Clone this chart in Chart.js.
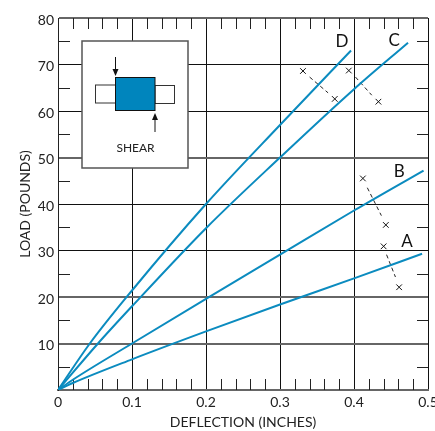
<!DOCTYPE html>
<html>
<head>
<meta charset="utf-8">
<title>Load vs deflection (shear)</title>
<style>
  html, body { margin: 0; padding: 0; background: #fff; }
  canvas { display: block; }
</style>
<script src="https://cdn.jsdelivr.net/npm/chart.js@4"></script>
</head>
<body>
<canvas id="shearChart" width="435" height="431"></canvas>
<script>
// -----------------------------------------------------------------
// DATA
// -----------------------------------------------------------------
const curveA = [[0, 0], [0.02, 1.5], [0.1, 6.6], [0.2, 12.6], [0.3, 18.4], [0.4, 24], [0.492, 29.3]];
const curveB = [[0, 0], [0.02, 2.2], [0.1, 10], [0.2, 19.6], [0.3, 29.1], [0.4, 38.6], [0.494, 47.2]];
const curveC = [[0, 0], [0.054, 10], [0.1, 18], [0.2, 34.8], [0.3, 50], [0.4, 64.7], [0.473, 74.7]];
const curveD = [[0, 0], [0.043, 10], [0.1, 21.4], [0.2, 40], [0.3, 57], [0.396, 73]];

const crossPairs = [
  [[0.331, 68.6], [0.374, 62.6]],
  [[0.393, 68.7], [0.433, 62]],
  [[0.412, 45.5], [0.443, 35.5]],
  [[0.44, 30.9], [0.461, 22.1]],
];
// dashed links stop a little short of their crosses
const crossLinks = [
  [[0.34, 67.3], [0.365, 63.9]],
  [[0.402, 67.3], [0.424, 63.4]],
  [[0.418, 43.5], [0.437, 37.5]],
  [[0.444, 29.1], [0.456, 24.3]],
];

const curveLabels = [["A", 0.4716, 32], ["B", 0.4612, 46.9], ["C", 0.4544, 75.1], ["D", 0.3837, 74.9]];

const xMinorTicks = [0.02, 0.04, 0.06, 0.08, 0.12, 0.14, 0.16, 0.18, 0.22, 0.24, 0.26, 0.28, 0.32, 0.34, 0.36, 0.38, 0.42, 0.44, 0.46, 0.48];
const yMinorTicks = [5, 15, 25, 35, 45, 55, 65, 75];
const yGreyLines = [0, 10, 20, 50, 80];

const BLUE = "#0b8bbf";
const FONT = "Lato, 'Open Sans', sans-serif";
const toXY = (pts) => pts.map(([x, y]) => ({ x, y }));

const curveDataset = (pts) => ({
  data: toXY(pts), borderColor: BLUE, borderWidth: 2, pointRadius: 0,
  showLine: true, cubicInterpolationMode: "monotone",
});

// -----------------------------------------------------------------
// PLUGINS: minor ticks inside the frame, curve letters, shear inset
// -----------------------------------------------------------------
const minorTicks = {
  id: "minorTicks",
  beforeDatasetsDraw(chart) {
    const { ctx, chartArea: a, scales } = chart;
    ctx.save();
    ctx.strokeStyle = "#222";
    ctx.lineWidth = 1;
    ctx.beginPath();
    xMinorTicks.forEach((v) => {
      const x = Math.round(scales.x.getPixelForValue(v)) + 0.5;
      ctx.moveTo(x, a.top); ctx.lineTo(x, a.top + 11);
      ctx.moveTo(x, a.bottom); ctx.lineTo(x, a.bottom - 11);
    });
    yMinorTicks.forEach((v) => {
      const y = Math.round(scales.y.getPixelForValue(v)) + 0.5;
      ctx.moveTo(a.left, y); ctx.lineTo(a.left + 12, y);
      ctx.moveTo(a.right, y); ctx.lineTo(a.right - 11, y);
    });
    ctx.stroke();
    ctx.restore();
  },
};

const curveLetters = {
  id: "curveLetters",
  afterDatasetsDraw(chart) {
    const { ctx, scales } = chart;
    ctx.save();
    ctx.fillStyle = "#111";
    ctx.font = "17px " + FONT;
    ctx.textAlign = "center";
    ctx.textBaseline = "middle";
    curveLabels.forEach(([t, x, y]) => {
      ctx.fillText(t, scales.x.getPixelForValue(x), scales.y.getPixelForValue(y));
    });
    ctx.restore();
  },
};

const arrow = (ctx, x, y0, y1) => {
  const dir = y1 > y0 ? 1 : -1;
  ctx.beginPath();
  ctx.moveTo(x, y0); ctx.lineTo(x, y1 - dir * 4);
  ctx.stroke();
  ctx.beginPath();
  ctx.moveTo(x, y1); ctx.lineTo(x - 3, y1 - dir * 7); ctx.lineTo(x + 3, y1 - dir * 7);
  ctx.closePath();
  ctx.fill();
};

const shearInset = {
  id: "shearInset",
  afterDatasetsDraw(chart) {
    const { ctx } = chart;
    ctx.save();
    ctx.fillStyle = "#fff";
    ctx.strokeStyle = "#555";
    ctx.lineWidth = 1.5;
    ctx.fillRect(82, 41, 106, 127);
    ctx.strokeRect(82, 41, 106, 127);

    ctx.strokeStyle = "#333";
    ctx.lineWidth = 1;
    ctx.strokeRect(95.5, 85, 20, 18);
    ctx.strokeRect(155, 85.5, 19.5, 18);

    ctx.fillStyle = "#0085bd";
    ctx.fillRect(115.5, 77.5, 39.5, 33);
    ctx.strokeStyle = "#111";
    ctx.strokeRect(115.5, 77.5, 39.5, 33);

    ctx.fillStyle = "#111";
    arrow(ctx, 115.5, 57, 76);
    arrow(ctx, 155, 132, 113);

    ctx.fillStyle = "#222";
    ctx.font = "12px " + FONT;
    ctx.textAlign = "center";
    ctx.textBaseline = "middle";
    ctx.fillText("SHEAR", 135.5, 148.5);
    ctx.restore();
  },
};

// -----------------------------------------------------------------
// CHART
// -----------------------------------------------------------------
const crossDatasets = crossPairs.map((pts) => ({
  data: toXY(pts), showLine: false, pointStyle: "crossRot",
  pointRadius: 4, pointBorderColor: "#111", pointBorderWidth: 1,
}));
const linkDatasets = crossLinks.map((pts) => ({
  data: toXY(pts), showLine: true, borderColor: "#222", borderWidth: 1,
  borderDash: [4, 3], pointRadius: 0,
}));

new Chart(document.getElementById("shearChart").getContext("2d"), {
  type: "scatter",
  data: {
    datasets: [
      curveDataset(curveA), curveDataset(curveB), curveDataset(curveC), curveDataset(curveD),
      ...linkDatasets, ...crossDatasets,
    ],
  },
  options: {
    responsive: false,
    animation: false,
    layout: { padding: { top: 18, right: 7, left: 0, bottom: 0 } },
    plugins: { legend: { display: false }, tooltip: { enabled: false } },
    scales: {
      x: {
        min: 0, max: 0.5,
        afterFit: (s) => { s.height = 41; s.paddingLeft = 0; s.paddingRight = 0; },
        grid: { color: "#111", lineWidth: 1, drawTicks: false },
        border: { color: "#666", width: 2 },
        ticks: {
          stepSize: 0.1, padding: 4, maxRotation: 0, color: "#222",
          font: { family: FONT, size: 14 },
          callback: (v) => (v === 0 ? "0" : String(Math.round(v * 10) / 10)),
        },
        title: {
          display: true, text: "DEFLECTION (INCHES)", color: "#222",
          font: { family: FONT, size: 14 }, padding: { top: 2, bottom: 0 },
        },
      },
      y: {
        min: 0, max: 80,
        afterFit: (s) => { s.width = 58; s.paddingTop = 0; s.paddingBottom = 0; },
        grid: {
          drawTicks: false,
          color: (c) => (yGreyLines.includes(c.tick.value) ? "#666" : "#111"),
          lineWidth: (c) => (yGreyLines.includes(c.tick.value) ? 2 : 1),
        },
        border: { color: "#222", width: 1 },
        ticks: {
          stepSize: 10, padding: 4, color: "#222", labelOffset: 2,
          font: { family: FONT, size: 14 },
          callback: (v) => (v === 0 ? "" : String(v)),
        },
        title: {
          display: true, text: "LOAD (POUNDS)", color: "#222",
          font: { family: FONT, size: 14 }, padding: { top: 17, bottom: 0 },
        },
      },
    },
  },
  plugins: [minorTicks, curveLetters, shearInset],
});
</script>
</body>
</html>
